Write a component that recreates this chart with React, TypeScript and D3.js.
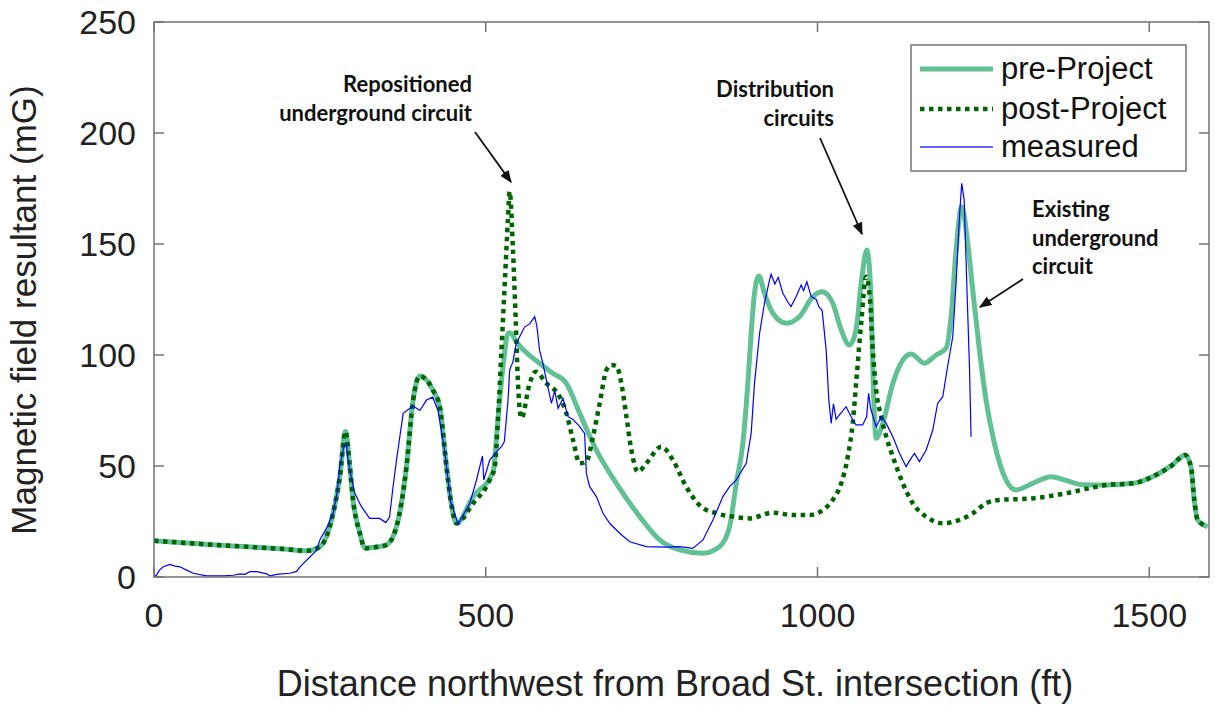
import React from "react";
import * as d3 from "d3";

// ---------- data ----------
const preProject: [number, number][] = [
  [0, 16.3], [100, 14.3], [200, 12.5], [230, 11.8], [250, 13.6], [270, 28.8], [280, 45], [288.6, 65.5],
  [295, 50], [300, 34.7], [310, 20], [318, 13], [335, 13.5], [350, 14.4], [365.5, 22.7], [380.5, 49.7],
  [390.5, 79.7], [400.6, 90.5], [410, 89], [420.7, 84], [430.7, 76.7], [440.8, 49.7], [448, 33], [455.8, 24.2],
  [481, 36.2], [511, 47.4], [518.6, 72], [526, 94.7], [533.6, 109.8], [537, 110], [546, 106], [581, 96.3],
  [600, 92], [621.5, 87.2], [641.6, 73.7], [666.7, 57.2], [696.8, 42.2], [732, 27.2], [762, 16.7], [792, 12.2],
  [827.3, 10.7], [852.4, 13.7], [867.5, 22.7], [877.5, 42.2], [887.5, 60.2], [895, 87.2], [900, 109.8],
  [905, 127.8], [911.6, 135.6], [920, 127.8], [932.7, 118.8], [953, 114.3], [973, 117.3], [993, 126.3],
  [1007, 128.5], [1023, 123.3], [1035.7, 111.3], [1048, 104.5], [1058, 111.3], [1065.8, 132.3], [1074.3, 147.3],
  [1080.8, 124.8], [1083.3, 94.7], [1085.8, 72.2], [1088.4, 62.5], [1098.4, 69.2], [1113.5, 87.2], [1128.5, 97.7],
  [1141, 100.5], [1161, 96.3], [1178.7, 100], [1193.7, 103], [1201.3, 117.3], [1208.8, 147.3], [1217.3, 166.8],
  [1226.4, 150.3], [1233.9, 129.3], [1244, 102.3], [1254, 79.7], [1266.6, 60.2], [1284, 43.7], [1299, 39.2],
  [1324, 42.2], [1352, 45.2], [1374.5, 43.5], [1400, 41.5], [1435, 41.4], [1475, 42.2], [1505, 45.2],
  [1535, 50.5], [1554, 55], [1562.8, 49.7], [1567.8, 34.7], [1572.8, 25.7], [1588, 22.7],
];

const postProject: [number, number][] = [
  [0, 16.3], [100, 14.3], [200, 12.5], [230, 11.8], [250, 13.6], [270, 28.8], [280, 45], [288.6, 65.5],
  [295, 50], [300, 34.7], [310, 20], [318, 13], [335, 13.5], [350, 14.4], [365.5, 22.7], [380.5, 49.7],
  [390.5, 79.7], [400.6, 90.5], [410, 89], [420.7, 84], [430.7, 76.7], [440.8, 49.7], [448, 33], [455.8, 24.2],
  [481, 33.2], [506, 43.7], [513.6, 49.7], [518.6, 72], [523.6, 102], [528.6, 132], [533.6, 162], [536, 173.6],
  [541, 147.3], [545, 117], [548.6, 87], [553.7, 71.5], [566, 87], [575, 92.5], [591.4, 87.2], [611.4, 81.2],
  [621.5, 73.7], [631.5, 61.7], [641.6, 51.2], [651.6, 52], [661.6, 63.2], [671.7, 78.2], [681.8, 93.2],
  [689.3, 95.5], [697, 95], [704.3, 87.3], [712, 72.2], [719.4, 57.2], [729.4, 47.4], [742, 51.2], [764.6, 58.7],
  [782, 52.7], [802, 40.7], [822, 32.4], [847.4, 28.7], [872.5, 27.2], [897.6, 26.4], [932.7, 29], [962.8, 27.9],
  [988, 27.9], [1008, 30.2], [1023, 34.7], [1035.7, 42.2], [1045.6, 54.2], [1053, 69.2], [1059, 90.2],
  [1065.8, 114.3], [1073.3, 135.3], [1079, 125], [1083.3, 102.3], [1088.4, 84.2], [1096, 72.2], [1103.5, 63.2],
  [1113.5, 54.2], [1128.5, 42.2], [1143.6, 33.2], [1163.7, 27.2], [1188.7, 24.2], [1213.9, 25.7], [1234, 28.7],
  [1254, 33.2], [1274, 34.7], [1324, 35.4], [1374.5, 37.7], [1410, 40], [1435, 41.4], [1475, 42.2], [1505, 45.2],
  [1535, 50.5], [1554, 55], [1562.8, 49.7], [1567.8, 34.7], [1572.8, 25.7], [1588, 22.7],
];

const measured: [number, number][] = [
  [0, 0.5], [3, 0.5], [8, 3], [14, 4.6], [24, 5.7], [30, 5], [39, 4.6], [50, 3], [59, 1.7], [79, 0.5],
  [104, 0.5], [120, 0.8], [129.5, 1.4], [137, 1.2], [144.6, 2.4], [155, 2.4], [170, 1.4], [174.7, 0.5],
  [185, 1.2], [204.8, 1.7], [215, 2.5], [220, 4.6], [235, 9], [245, 12], [250, 16.7], [260, 22], [270, 28.8],
  [276, 38], [280, 49.7], [286, 58.7], [290, 60], [292, 54], [295, 48], [302.7, 37.7], [312, 32], [325, 26.4],
  [340, 26.4], [349.4, 24.5], [355, 27], [360, 40], [365.5, 52.7], [375.5, 73.7], [390.5, 77], [400.6, 75],
  [410.7, 79.7], [420, 81], [428, 75], [438, 57], [447, 34], [458.4, 23.9], [476, 33.2], [486, 43.7],
  [491, 49.7], [495, 54.5], [497, 43.7], [506, 52.7], [516, 56.4], [523.6, 58.7], [528, 61], [533.6, 79.7],
  [536, 93.2], [541, 97], [546, 105.3], [551, 108.2], [558.7, 112.7], [566, 114], [573.8, 117.3], [577, 113],
  [581, 102.3], [586, 96.3], [591.4, 88.7], [599, 78.2], [604, 84], [609, 76], [616.4, 80.4], [624, 72.2],
  [631.5, 71], [641.6, 67.7], [649, 64.7], [651.6, 46.7], [656.6, 40.7], [666.7, 36.2], [676.7, 28.7],
  [686.7, 24.2], [701.8, 19.7], [716.9, 15.9], [742, 13.7], [772, 13.5], [792, 13.7], [812, 12.9],
  [827.3, 16.7], [842.3, 25.7], [857.4, 36.2], [867.5, 40.7], [877.5, 43.7], [892.6, 51.2], [900, 64.7],
  [905, 87.2], [912.7, 109.8], [920, 123.3], [927.7, 133.8], [930, 136.4], [935.7, 132], [940.7, 135],
  [947.8, 127.8], [955, 124], [960, 121.8], [967.8, 126.3], [975.4, 131.5], [979, 129], [983.9, 133],
  [990.4, 126.3], [998, 125], [1002, 121.8], [1007, 120], [1013, 102.3], [1017, 79.7], [1020.6, 69.2],
  [1024, 78], [1028, 71], [1033, 73], [1043, 76.7], [1050.7, 72.2], [1058, 68.5], [1068, 68.5], [1074, 72.2],
  [1077, 82.7], [1080, 76], [1088.4, 67.7], [1096, 72.2], [1103.5, 69.2], [1113.5, 63.2], [1123.5, 55.7],
  [1133.5, 49.7], [1140, 53], [1146, 55.7], [1153.6, 52], [1163.7, 57.2], [1173.7, 66.2], [1181, 78.2],
  [1188.7, 81.2], [1196, 94.7], [1203.8, 108.2], [1208.8, 132.3], [1213.9, 162.3], [1217.3, 177.3],
  [1221, 170], [1224.9, 132.3], [1229, 94.7], [1231.4, 63.2],
];

const xTicks = [0, 500, 1000, 1500];
const yTicks = [0, 50, 100, 150, 200, 250];
const legendLabels = ["pre-Project", "post-Project", "measured"];

const annotations = [
  { lines: ["Repositioned", "underground circuit"], x: 472, y: 92, anchor: "end", arrow: [[475, 132], [511, 182]] },
  { lines: ["Distribution", "circuits"], x: 834, y: 97, anchor: "end", arrow: [[820, 138], [862, 234]] },
  { lines: ["Existing", "underground", "circuit"], x: 1032, y: 217, anchor: "start", arrow: [[1023, 279], [980, 307]] },
];

// ---------- layout ----------
const W = 1215, H = 705;
const L = 154, R = 1209, T = 22, B = 577;
const axisColor = "#737373";
const textColor = "#222";

export default function App() {
  const x = d3.scaleLinear().domain([0, 1590]).range([L, R]);
  const y = d3.scaleLinear().domain([0, 250]).range([B, T]);
  const smooth = d3.line<[number, number]>().x(d => x(d[0])).y(d => y(d[1])).curve(d3.curveMonotoneX);
  const raw = d3.line<[number, number]>().x(d => x(d[0])).y(d => y(d[1]));

  const legendStyles = [
    { stroke: "#62c095", width: 5, dash: undefined as string | undefined },
    { stroke: "#006400", width: 4.5, dash: "4.5 4.5" },
    { stroke: "#3333ff", width: 1.5, dash: undefined },
  ];
  const legendYs = [69, 109, 147];

  return (
    <svg width={W} height={H} style={{ position: "absolute", left: 0, top: 0, background: "#fff" }}
      fontFamily="'Liberation Sans', Arial, Helvetica, sans-serif">
      <defs>
        <marker id="ah" viewBox="0 0 10 10" refX="9" refY="5" markerWidth="7" markerHeight="7" orient="auto">
          <path d="M0,1 L10,5 L0,9 Z" fill="#111" />
        </marker>
        <clipPath id="clip"><rect x={L} y={T} width={R - L} height={B - T} /></clipPath>
      </defs>

      {/* curves */}
      <g clipPath="url(#clip)">
        <path d={smooth(preProject) || ""} fill="none" stroke="#62c095" strokeWidth={5} strokeLinejoin="round" />
        <path d={smooth(postProject) || ""} fill="none" stroke="#006400" strokeWidth={4.5} strokeDasharray="4.5 4.5" />
        <path d={raw(measured) || ""} fill="none" stroke="#0000ff" strokeWidth={1.2} />
      </g>

      {/* axes box */}
      <rect x={L} y={T} width={R - L} height={B - T} fill="none" stroke={axisColor} strokeWidth={1.5} />
      {xTicks.map(t => (
        <g key={"x" + t}>
          <line x1={x(t)} x2={x(t)} y1={B} y2={B - 10} stroke={axisColor} strokeWidth={1.5} />
          <line x1={x(t)} x2={x(t)} y1={T} y2={T + 10} stroke={axisColor} strokeWidth={1.5} />
          <text x={x(t)} y={627} textAnchor="middle" fontSize={34} fill={textColor}>{t}</text>
        </g>
      ))}
      {yTicks.map(t => (
        <g key={"y" + t}>
          <line x1={L} x2={L + 10} y1={y(t)} y2={y(t)} stroke={axisColor} strokeWidth={1.5} />
          <line x1={R} x2={R - 10} y1={y(t)} y2={y(t)} stroke={axisColor} strokeWidth={1.5} />
          <text x={136} y={y(t) + 12} textAnchor="end" fontSize={34} fill={textColor}>{t}</text>
        </g>
      ))}

      <text x={675} y={696} textAnchor="middle" fontSize={36} fill={textColor}>
        Distance northwest from Broad St. intersection (ft)
      </text>
      <text transform="translate(36,310) rotate(-90)" textAnchor="middle" fontSize={35} fill={textColor}>
        Magnetic field resultant (mG)
      </text>

      {/* legend */}
      <rect x={911} y={45} width={275} height={126} fill="#fff" stroke={axisColor} strokeWidth={1.5} />
      {legendLabels.map((lab, i) => (
        <g key={lab}>
          <line x1={920} x2={993} y1={legendYs[i]} y2={legendYs[i]} stroke={legendStyles[i].stroke}
            strokeWidth={legendStyles[i].width} strokeDasharray={legendStyles[i].dash} />
          <text x={1001} y={legendYs[i] + 10} fontSize={31} fill="#111">{lab}</text>
        </g>
      ))}

      {/* annotations */}
      {annotations.map((a, i) => (
        <g key={i}>
          {a.lines.map((ln, j) => (
            <text key={j} x={a.x} y={a.y + j * 28.5} textAnchor={a.anchor as any} fontSize={22}
              fontWeight="bold" fontFamily="Lato, 'Open Sans', sans-serif" fill="#111">{ln}</text>
          ))}
          <line x1={a.arrow[0][0]} y1={a.arrow[0][1]} x2={a.arrow[1][0]} y2={a.arrow[1][1]}
            stroke="#111" strokeWidth={1.8} markerEnd="url(#ah)" />
        </g>
      ))}
    </svg>
  );
}
